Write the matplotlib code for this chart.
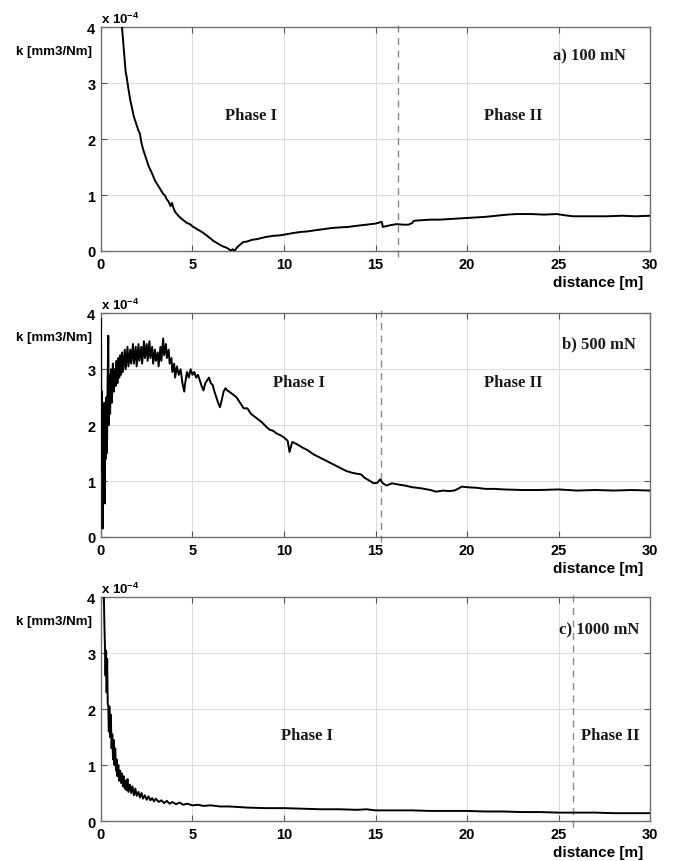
import matplotlib
matplotlib.use("Agg")
import matplotlib.pyplot as plt
import matplotlib.transforms as mtransforms

plt.rcParams['font.family'] = ['Liberation Sans', 'DejaVu Sans']
plt.rcParams['mathtext.fontset'] = 'custom'
plt.rcParams['mathtext.rm'] = 'Liberation Sans:bold'
plt.rcParams['mathtext.bf'] = 'Liberation Sans:bold'

# ---------------- data (k in units of 1e-4 mm3/Nm) ----------------
a_x = [1.10, 1.15, 1.25, 1.35, 1.40, 1.50, 1.60, 1.70, 1.80, 1.86, 1.95, 2.05, 2.13, 2.20,
       2.30, 2.40, 2.50, 2.60, 2.70, 2.80, 2.95, 3.10, 3.25, 3.40, 3.50, 3.60, 3.70, 3.80,
       3.88, 3.95, 4.05, 4.20, 4.32, 4.50, 4.70, 4.86, 5.00, 5.20, 5.41, 5.60, 5.80, 6.00,
       6.14, 6.30, 6.50, 6.68, 6.85, 7.00, 7.10, 7.20, 7.30, 7.40, 7.55, 7.78, 8.00, 8.25,
       8.50, 8.75, 9.00, 9.42, 9.80, 10.15, 10.50, 10.90, 11.30, 11.70, 12.15, 12.60, 13.00,
       13.50, 13.97, 14.50, 15.00, 15.34, 15.40, 15.80, 16.16, 16.50, 16.80, 17.00, 17.10,
       17.50, 18.00, 18.50, 19.00, 19.50, 20.00, 20.50, 21.00, 21.60, 22.20, 22.70, 23.50,
       24.20, 24.90, 25.30, 25.80, 26.50, 27.60, 28.50, 29.20, 30.00]
a_k = [4.10, 4.00, 3.60, 3.20, 3.12, 2.90, 2.70, 2.55, 2.40, 2.34, 2.25, 2.15, 2.10, 1.95,
       1.82, 1.72, 1.62, 1.52, 1.45, 1.38, 1.26, 1.18, 1.10, 1.02, 0.99, 0.92, 0.88, 0.80,
       0.86, 0.78, 0.70, 0.64, 0.60, 0.55, 0.50, 0.48, 0.44, 0.40, 0.36, 0.32, 0.27, 0.22,
       0.18, 0.15, 0.11, 0.08, 0.06, 0.03, 0.01, 0.03, 0.00, 0.05, 0.10, 0.16, 0.17, 0.20,
       0.21, 0.23, 0.25, 0.27, 0.28, 0.30, 0.32, 0.34, 0.35, 0.37, 0.39, 0.41, 0.42,
       0.43, 0.45, 0.47, 0.49, 0.52, 0.43, 0.46, 0.48, 0.47, 0.47, 0.50, 0.54,
       0.55, 0.56, 0.56, 0.57, 0.58, 0.59, 0.60, 0.61, 0.63, 0.65, 0.66, 0.66,
       0.65, 0.66, 0.64, 0.62, 0.62, 0.62, 0.63, 0.62, 0.63]

b_x = [0.00, 0.03, 0.06, 0.09, 0.12, 0.15, 0.18, 0.21, 0.24, 0.27, 0.30, 0.33, 0.36, 0.40,
       0.43, 0.46, 0.50, 0.55, 0.60, 0.65, 0.70, 0.75, 0.80, 0.85, 0.90, 0.95, 1.00, 1.05,
       1.10, 1.15, 1.20, 1.30, 1.35, 1.45, 1.50, 1.60, 1.65, 1.75, 1.80, 1.90, 1.95, 2.05,
       2.10, 2.20, 2.25, 2.35, 2.40, 2.50, 2.55, 2.65, 2.70, 2.80, 2.85, 2.95, 3.00, 3.10,
       3.15, 3.25, 3.30, 3.40, 3.45, 3.55, 3.60, 3.70, 3.75, 3.85, 3.90, 4.00, 4.05, 4.15,
       4.25, 4.35, 4.45, 4.55, 4.60, 4.70, 4.80, 4.90, 5.00, 5.10, 5.20, 5.30, 5.40, 5.50,
       5.60, 5.70, 5.80, 5.90, 6.00, 6.10, 6.20, 6.30, 6.40, 6.50, 6.60, 6.70, 6.80, 6.90,
       7.00, 7.20, 7.40, 7.60, 7.80, 8.00, 8.20, 8.40, 8.60, 8.80, 9.00, 9.20, 9.40, 9.60,
       9.80, 10.00, 10.20, 10.30, 10.45, 10.70, 11.00, 11.30, 11.60, 11.90, 12.20, 12.50,
       12.80, 13.10, 13.40, 13.70, 14.00, 14.20, 14.40, 14.60, 14.90, 15.10, 15.25, 15.40,
       15.60, 15.90, 16.20, 16.60, 17.00, 17.50, 18.00, 18.30, 18.70, 19.00, 19.30, 19.50,
       19.70, 20.00, 20.50, 21.00, 21.50, 22.00, 23.00, 24.00, 25.00, 26.00, 27.00, 28.00,
       29.00, 30.00]
b_k = [3.90, 1.20, 2.60, 0.15, 2.30, 1.00, 2.40, 0.60, 2.10, 1.40, 2.50, 1.50, 2.70, 3.60,
       2.00, 2.90, 2.20, 3.00, 2.40, 3.10, 2.60, 3.00, 2.70, 3.15, 2.75, 3.20, 2.85, 3.25,
       2.90, 3.30, 2.95, 3.35, 3.00, 3.40, 3.05, 3.35, 3.10, 3.45, 3.10, 3.40, 3.05, 3.45,
       3.15, 3.40, 3.10, 3.50, 3.20, 3.45, 3.15, 3.50, 3.20, 3.40, 3.10, 3.35, 3.15, 3.30,
       3.05, 3.40, 3.15, 3.55, 3.25, 3.45, 3.20, 3.35, 3.10, 3.20, 2.95, 3.10, 2.85, 3.05,
       2.90, 3.00, 2.75, 2.60, 2.75, 2.95, 2.85, 3.00, 2.90, 2.95, 2.85, 2.90, 2.80, 2.70,
       2.62, 2.75, 2.80, 2.85, 2.75, 2.72, 2.60, 2.50, 2.40, 2.32, 2.45, 2.60, 2.66, 2.62,
       2.60, 2.55, 2.50, 2.40, 2.30, 2.30, 2.20, 2.15, 2.10, 2.05, 1.98, 1.92, 1.90, 1.85,
       1.82, 1.78, 1.72, 1.52, 1.70, 1.66, 1.60, 1.55, 1.48, 1.43, 1.38, 1.33,
       1.28, 1.23, 1.18, 1.15, 1.13, 1.12, 1.06, 1.02, 0.96, 0.97, 1.03, 0.96,
       0.92, 0.96, 0.94, 0.92, 0.89, 0.87, 0.84, 0.81, 0.83, 0.82, 0.83, 0.86,
       0.90, 0.89, 0.88, 0.86, 0.86, 0.85, 0.84, 0.84, 0.85, 0.83, 0.84, 0.83,
       0.84, 0.83]

c_x = [0.12, 0.16, 0.19, 0.22, 0.25, 0.28, 0.31, 0.34, 0.37, 0.40, 0.43, 0.46, 0.50, 0.54,
       0.58, 0.62, 0.66, 0.70, 0.74, 0.78, 0.82, 0.86, 0.90, 0.95, 1.00, 1.05, 1.10, 1.15,
       1.20, 1.25, 1.30, 1.35, 1.40, 1.45, 1.50, 1.58, 1.65, 1.72, 1.80, 1.88, 1.95, 2.05,
       2.13, 2.22, 2.30, 2.40, 2.50, 2.60, 2.70, 2.80, 2.90, 3.00, 3.15, 3.30, 3.45, 3.60,
       3.75, 3.90, 4.10, 4.30, 4.50, 4.70, 5.00, 5.30, 5.60, 6.00, 6.50, 7.00, 7.50, 8.00,
       9.00, 10.00, 11.00, 12.00, 13.00, 14.00, 14.50, 15.00, 16.00, 17.00, 18.00, 19.00,
       20.00, 21.00, 22.00, 23.00, 24.00, 25.00, 26.00, 27.00, 28.00, 29.00, 30.00]
c_k = [4.30, 4.00, 3.50, 3.10, 2.60, 3.05, 2.30, 2.90, 2.10, 2.05, 1.60, 2.05, 1.50, 1.90,
       1.30, 1.55, 1.10, 1.45, 1.00, 1.30, 0.90, 1.10, 0.80, 1.00, 0.72, 0.90, 0.68, 0.85,
       0.62, 0.80, 0.58, 0.72, 0.55, 0.75, 0.52, 0.65, 0.50, 0.62, 0.46, 0.58, 0.45, 0.52,
       0.42, 0.50, 0.40, 0.46, 0.38, 0.44, 0.37, 0.41, 0.35, 0.40, 0.34, 0.37, 0.32, 0.36,
       0.31, 0.34, 0.30, 0.33, 0.29, 0.31, 0.28, 0.29, 0.27, 0.28, 0.26, 0.26, 0.25, 0.24,
       0.23, 0.23, 0.22, 0.21, 0.21, 0.20, 0.21, 0.19, 0.19, 0.19, 0.18, 0.18,
       0.18, 0.17, 0.17, 0.16, 0.16, 0.15, 0.15, 0.15, 0.14, 0.14, 0.14]

series_x = [a_x, b_x, c_x]
series_k = [a_k, b_k, c_k]
load_labels = ["a) 100 mN", "b) 500 mN", "c) 1000 mN"]
phase_boundary = [16.2, 15.28, 25.8]
phase1_pos = [(8.22, 2.43), (10.82, 2.77), (11.24, 1.53)]
phase2_pos = [(22.5, 2.43), (22.5, 2.77), (27.8, 1.53)]
label_pos = [(26.7, 3.50), (27.2, 3.46), (27.2, 3.43)]
dash_ext = [(-0.027, 1.031), (-0.022, 1.018), (-0.027, 1.013)]
x_ticks = [0, 5, 10, 15, 20, 25, 30]
y_ticks = [0, 1, 2, 3, 4]

# ---------------- figure ----------------
fig = plt.figure(figsize=(6.73, 8.62), dpi=100)
bottoms = [0.7077, 0.3759, 0.0464]
serif = ['Liberation Serif', 'DejaVu Serif']

for i in range(3):
    ax = fig.add_axes([0.150, bottoms[i], 0.816, 0.2595])
    ax.plot(series_x[i], series_k[i], color='black', lw=1.4, zorder=3)
    ax.set_xlim(0, 30)
    ax.set_ylim(0, 4)
    ax.set_xticks(x_ticks)
    ax.set_yticks(y_ticks)
    ax.set_xticklabels([str(t) for t in x_ticks], fontweight='bold', fontsize=10.5)
    ax.set_yticklabels([str(t) for t in y_ticks], fontweight='bold', fontsize=10.5)
    ax.tick_params(direction='in', length=4, width=0.8, color='#555555',
                   top=True, right=True, pad=4)
    ax.grid(True, color='#dcdcdc', lw=0.7, zorder=0)
    ax.set_axisbelow(True)
    for sp in ax.spines.values():
        sp.set_color('#707070')
        sp.set_linewidth(1.0)

    trans = mtransforms.blended_transform_factory(ax.transData, ax.transAxes)
    x0 = phase_boundary[i]
    ax.plot([x0, x0], list(dash_ext[i]), transform=trans, clip_on=False,
            color='#8a8a8a', lw=1.0, ls=(0, (5, 4)), zorder=2)

    ax.text(phase1_pos[i][0], phase1_pos[i][1], "Phase I", family=serif,
            fontweight='bold', fontsize=12, ha='center', va='center', color='#1a1a1a')
    ax.text(phase2_pos[i][0], phase2_pos[i][1], "Phase II", family=serif,
            fontweight='bold', fontsize=12, ha='center', va='center', color='#1a1a1a')
    ax.text(label_pos[i][0], label_pos[i][1], load_labels[i], family=serif,
            fontweight='bold', fontsize=12, ha='center', va='center', color='#1a1a1a')

    ax.text(-0.016, 0.893, "k [mm3/Nm]", transform=ax.transAxes, ha='right',
            va='center', fontweight='bold', fontsize=9.5)
    ax.text(0.0, 1.005, r"x 10$^{\mathbf{-4}}$", transform=ax.transAxes, ha='left',
            va='bottom', fontweight='bold', fontsize=9.5)
    ax.text(0.987, -0.14, "distance [m]", transform=ax.transAxes, ha='right',
            va='center', fontweight='bold', fontsize=11)

fig.savefig("out.png", dpi=100)
